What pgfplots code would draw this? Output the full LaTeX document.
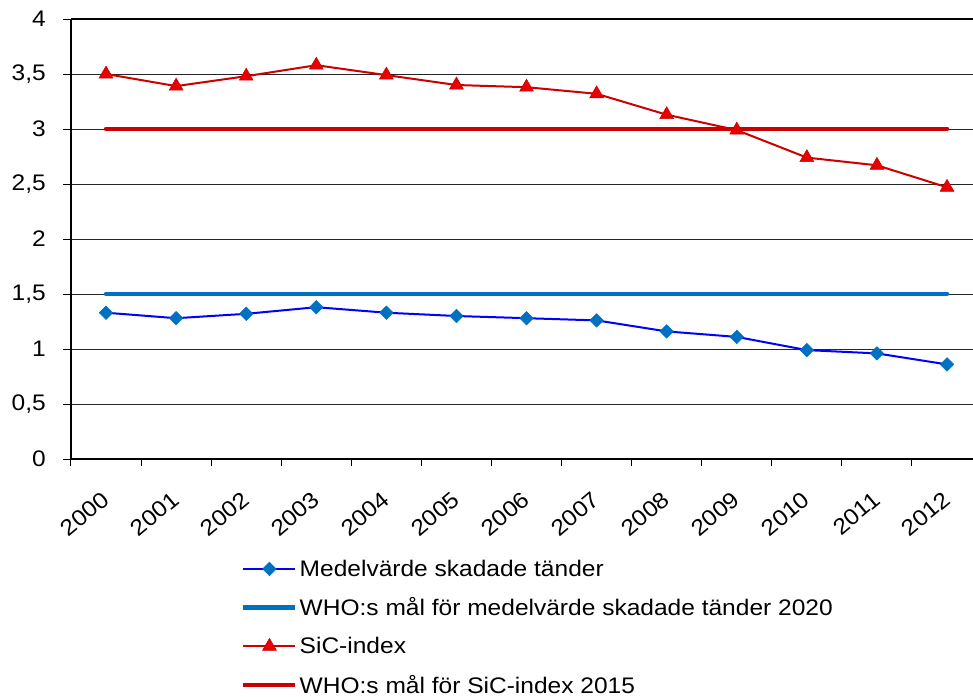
\documentclass[border=0pt]{standalone}
\usepackage{pgfplots}
\pgfplotsset{compat=1.18}
\usepackage{fontspec}
\setmainfont[FakeStretch=1.09]{Liberation Sans}

\definecolor{meanblue}{RGB}{0,0,255}
\definecolor{whoblue}{RGB}{0,112,192}
\definecolor{sicred}{RGB}{204,0,0}
\definecolor{sicfill}{RGB}{232,0,0}
\definecolor{whored}{RGB}{204,0,0}

\newcommand{\chartfont}{\fontsize{22.5}{27}\selectfont}

\begin{document}
\begin{tikzpicture}
\useasboundingbox (-71pt,-237pt) rectangle (902pt,459pt);
\begin{axis}[
  scale only axis,
  width=902pt, height=440pt,
  xmin=-0.5, xmax=12.371,
  ymin=0, ymax=4,
  axis x line*=bottom,
  axis y line*=left,
  axis line style={black, line width=2.2pt},
  xtick={0,...,12},
  xticklabels={2000,2001,2002,2003,2004,2005,2006,2007,2008,2009,2010,2011,2012},
  minor xtick={-0.5,0.5,...,11.5},
  ytick={0,0.5,...,3.5},
  yticklabels={0,{0,5},1,{1,5},2,{2,5},3,{3,5}},
  extra y ticks={4},
  extra y tick labels={4},
  extra y tick style={grid style={black, line width=2.2pt}},
  tick align=outside,
  major tick length=8pt,
  minor tick length=7pt,
  major x tick style={draw=none},
  tick style={black, line width=1pt},
  ymajorgrids,
  grid style={black!85, line width=0.9pt},
  /pgf/number format/assume math mode=true,
  tick label style={font=\chartfont},
  yticklabel style={inner sep=0pt, xshift=-17pt},
  xticklabel style={rotate=40, anchor=north east, inner sep=0pt, xshift=-19pt, yshift=-14pt},
  legend style={draw=none, fill=none, font=\chartfont, at={(0.1885,-0.2245)}, anchor=north west,
    inner sep=0pt, row sep=16pt, cells={anchor=west},
    /tikz/every even column/.append style={column sep=1pt}},
  legend image code/.code={
    \draw[mark repeat=2, mark phase=2] plot coordinates {(0pt,0pt) (26pt,0pt) (52pt,0pt)};
  },
  clip=false,
]

% WHO target for mean number of damaged teeth
\addplot[whoblue, line width=4.5pt, line cap=round, forget plot] coordinates {
  (0,1.5) (12,1.5)
};

% mean number of damaged teeth
\addplot[meanblue, line width=2pt, mark=square*, mark size=4.8pt,
  mark options={rotate=45, fill=whoblue, draw=whoblue, line width=0.5pt}, forget plot] coordinates {
  (0,1.33) (1,1.28) (2,1.32) (3,1.38) (4,1.33) (5,1.30) (6,1.28)
  (7,1.26) (8,1.16) (9,1.11) (10,0.99) (11,0.96) (12,0.86)
};

% WHO target for SiC index
\addplot[whored, line width=4.5pt, line cap=round, forget plot] coordinates {
  (0,3) (12,3)
};

% SiC index
\addplot[sicred, line width=2pt, mark=triangle*, mark size=8pt,
  mark options={fill=sicfill, draw=sicred, line width=0.5pt}, forget plot] coordinates {
  (0,3.50) (1,3.39) (2,3.48) (3,3.58) (4,3.49) (5,3.40) (6,3.38)
  (7,3.32) (8,3.13) (9,2.99) (10,2.74) (11,2.67) (12,2.47)
};

\addlegendimage{meanblue, line width=2pt, mark=square*, mark size=4.8pt,
  mark options={rotate=45, fill=whoblue, draw=whoblue, line width=0.5pt}}
\addlegendentry{Medelvärde skadade tänder}
\addlegendimage{whoblue, line width=4.5pt}
\addlegendentry{WHO:s mål för medelvärde skadade tänder 2020}
\addlegendimage{sicred, line width=2pt, mark=triangle*, mark size=8pt,
  mark options={fill=sicfill, draw=sicred, line width=0.5pt}}
\addlegendentry{SiC-index}
\addlegendimage{whored, line width=4.5pt}
\addlegendentry{WHO:s mål för SiC-index 2015}
\end{axis}
\end{tikzpicture}
\end{document}
